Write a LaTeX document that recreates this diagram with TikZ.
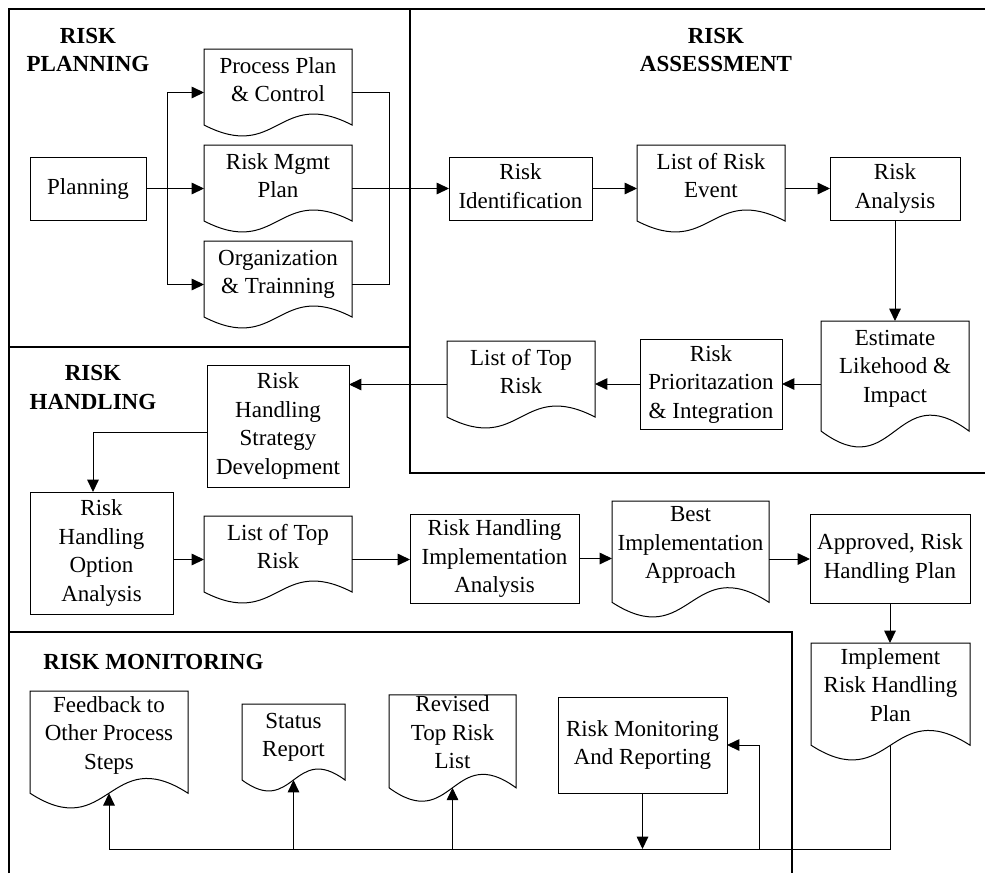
\documentclass[tikz,border=0pt]{standalone}
\usepackage{fontspec}
\setmainfont{Liberation Serif}
\usetikzlibrary{arrows.meta,calc}

\newcommand{\bodyfont}{\fontsize{11.5pt}{14.25pt}\selectfont}
\newcommand{\stack}[1]{\begin{tabular}{@{}c@{}}#1\end{tabular}}
\newcommand{\lifted}[2]{\raisebox{#1}[\height][\depth]{\stack{#2}}}
% document symbol: rectangle with a wavy lower edge, plus a coordinate on the wave's middle
\newcommand{\docoutline}[1]{%
  \draw[link] (#1.north west) -- (#1.north east)
    -- ($(#1.south east)!0.1266!(#1.north east)$)
    .. controls ($(#1.south)!0.5633!(#1.north)$) and ($(#1.south)!-0.3101!(#1.north)$)
    .. ($(#1.south west)!0.1266!(#1.north west)$) -- cycle;
  \coordinate (#1-mid) at ($(#1.south)!0.1266!(#1.north)$);}

\tikzset{
  frame/.style={line width=1.3pt},
  link/.style={line width=0.5pt},
  arrow/.style={link, -{Triangle[length=6.2pt,width=5.8pt]}},
  procbox/.style 2 args={draw, line width=0.5pt, rectangle, inner sep=0pt, outer sep=0pt,
    minimum width=#1*0.5pt, minimum height=#2*0.5pt, font=\bodyfont},
  docbox/.style 2 args={rectangle, inner sep=0pt, outer sep=0pt,
    minimum width=#1*0.5pt, minimum height=#2*0.5pt, font=\bodyfont},
  title/.style={font=\bodyfont\bfseries, align=center, inner sep=0pt},
}

\begin{document}
\begin{tikzpicture}[x=0.5pt, y=-0.5pt]
\useasboundingbox (0,0) rectangle (985,873);

% section frames
\draw[frame] (9,873) -- (9,9) -- (985,9);
\draw[frame] (410,9) -- (410,473) -- (985,473);
\draw[frame] (9,347) -- (410,347);
\draw[frame] (9,632) -- (792,632) -- (792,873);

% section titles
\node[title] (tplan) at (88,50) {RISK\\PLANNING};
\node[title] (tassess) at (716,50) {RISK\\ASSESSMENT};
\node[title] (thand) at (93,387.5) {RISK\\HANDLING};
\node[title, anchor=west] (tmon) at (43,662) {RISK MONITORING};

% risk planning
\node[procbox={116}{63}] (plan) at (88,188.5) {Planning};
\node[docbox={148}{87}] (ppc) at (278,92.5) {\lifted{5.4pt}{Process Plan\\\& Control}};
\node[docbox={148}{87}] (rmp) at (278,188.5) {\lifted{5.4pt}{Risk Mgmt\\Plan}};
\node[docbox={148}{87}] (org) at (278,284.5) {\lifted{5.4pt}{Organization\\\& Trainning}};

% risk assessment
\node[procbox={143}{63}] (rid) at (520.5,188.5) {\stack{Risk\\Identification}};
\node[docbox={148}{87}] (lre) at (711,188.5) {\lifted{5.4pt}{List of Risk\\Event}};
\node[procbox={130}{63}] (ran) at (895,188.5) {\stack{Risk\\Analysis}};
\node[docbox={148}{126}] (est) at (895,384) {\lifted{7.9pt}{Estimate\\Likehood \&\\Impact}};
\node[procbox={142}{90}] (rpi) at (711,384) {\stack{Risk\\Prioritazation\\\& Integration}};
\node[docbox={148}{87}] (ltr) at (521,384.5) {\lifted{5.4pt}{List of Top\\Risk}};

% risk handling
\node[procbox={142}{122}] (hsd) at (278,426) {\stack{Risk\\Handling\\Strategy\\Development}};
\node[procbox={143}{122}] (hoa) at (101.5,553) {\stack{Risk\\Handling\\Option\\Analysis}};
\node[docbox={148}{87}] (ltrb) at (278,559.5) {\lifted{5.4pt}{List of Top\\Risk}};
\node[procbox={169}{89}] (hia) at (494.5,558.5) {\stack{Risk Handling\\Implementation\\Analysis}};
\node[docbox={157}{116}] (bia) at (690.5,559) {\lifted{7.25pt}{Best\\Implementation\\Approach}};
\node[procbox={160}{89}] (app) at (890,558.5) {\stack{Approved, Risk\\Handling Plan}};
\node[docbox={159}{117}] (irh) at (890.5,701.5) {\lifted{7.3pt}{Implement\\Risk Handling\\Plan}};

% risk monitoring
\node[procbox={169}{96}] (rmr) at (642.5,745) {\stack{Risk Monitoring\\And Reporting}};
\node[docbox={158}{117}] (fb) at (109,749.5) {\lifted{7.3pt}{Feedback to\\Other Process\\Steps}};
\node[docbox={103}{87}] (sr) at (293.5,747.5) {\lifted{5.4pt}{Status\\Report}};
\node[docbox={127}{106.5}] (rtr) at (452.5,748) {\lifted{6.7pt}{Revised\\Top Risk\\List}};

\foreach \d in {ppc,rmp,org,lre,est,ltr,ltrb,bia,irh,fb,sr,rtr} {\docoutline{\d}}

% helper coordinates for routing
\coordinate (fork) at (167,188.5);
\coordinate (merge) at (389,0);
\coordinate (drop) at (93,0);
\coordinate (bus) at (0,849);
\coordinate (loop) at (759,0);

% planning connectors
\draw[arrow] (plan.east) -- (plan.east -| rmp.west);
\draw[arrow] (fork) |- (ppc.west);
\draw[arrow] (fork) |- (org.west);
\draw[link] (ppc.east) -| (merge |- org.east) -- (org.east);
\draw[arrow] (rmp.east) -- (rmp.east -| rid.west);

% assessment connectors
\draw[arrow] (rid.east) -- (rid.east -| lre.west);
\draw[arrow] (lre.east) -- (lre.east -| ran.west);
\draw[arrow] (ran.south) -- (ran.south |- est.north);
\draw[arrow] (est.west) -- (est.west -| rpi.east);
\draw[arrow] (rpi.west) -- (rpi.west -| ltr.east);
\draw[arrow] (ltr.west) -- (ltr.west -| hsd.east);

% handling connectors
\draw[arrow] ([yshift=-3pt]hsd.west) -| (drop |- hoa.north);
\draw[arrow] (ltrb.west -| hoa.east) -- (ltrb.west);
\draw[arrow] (ltrb.east) -- (ltrb.east -| hia.west);
\draw[arrow] (hia.east) -- (hia.east -| bia.west);
\draw[arrow] (bia.east) -- (bia.east -| app.west);
\draw[arrow] (app.south) -- (app.south |- irh.north);

% monitoring connectors
\draw[arrow] (irh-mid) -- (irh-mid |- bus) -- (fb-mid |- bus) -- (fb-mid);
\draw[arrow] (sr-mid |- bus) -- (sr-mid);
\draw[arrow] (rtr-mid |- bus) -- (rtr-mid);
\draw[arrow] (rmr.south) -- (rmr.south |- bus);
\draw[arrow] (loop |- bus) |- (rmr.east);
\end{tikzpicture}
\end{document}
